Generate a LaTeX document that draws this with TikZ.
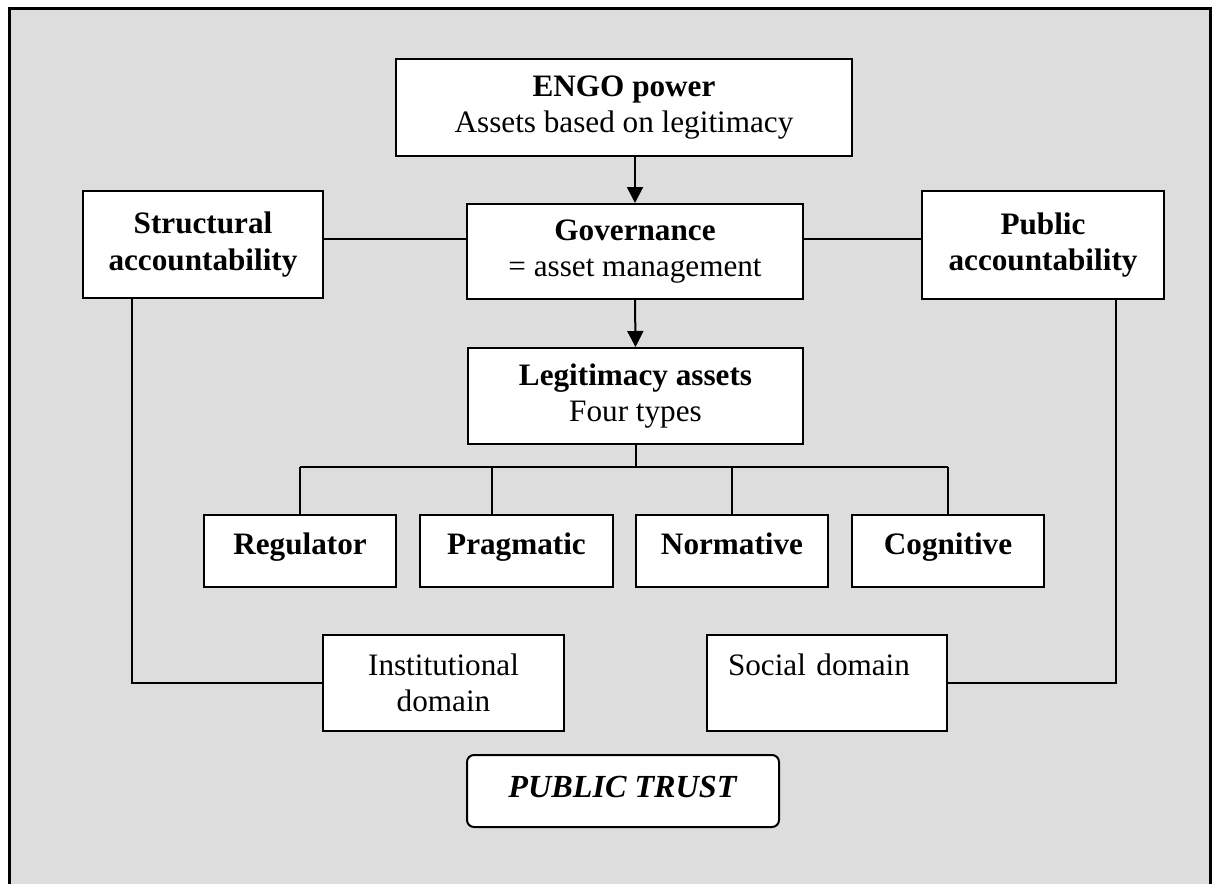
\documentclass[tikz,border=0pt]{standalone}
\usepackage{fontspec}
\setmainfont{Liberation Serif}
\usetikzlibrary{arrows.meta}
\definecolor{bggray}{RGB}{221,221,221}
\begin{document}
\begin{tikzpicture}[x=0.5pt,y=-0.5pt,
  box/.style={draw, fill=white, line width=1pt, inner sep=0pt, align=center,
    font=\fontsize{15.6}{18.3}\selectfont},
  typebox/.style={box, minimum height=36pt, text height=8pt, text depth=4.5pt},
  conn/.style={line width=1pt},
  arr/.style={line width=1pt, -{Triangle[length=8pt,width=8pt]}}]
\useasboundingbox (0,0) rectangle (1213,883);
\clip (0,0) rectangle (1213,883);
\draw[line width=1.5pt, fill=bggray] (9,9) rectangle (1210,920);

% top row
\node[box, minimum width=228pt, minimum height=48.5pt] (engo) at (624,107.5)
  {\textbf{ENGO power}\\Assets based on legitimacy};
\node[box, minimum width=120pt, minimum height=53.5pt] (struct) at (203,244.5)
  {\textbf{Structural}\\\textbf{accountability}};
\node[box, minimum width=168pt, minimum height=47.5pt] (gov) at (635,251.5)
  {\textbf{Governance}\\= asset management};
\node[box, minimum width=121pt, minimum height=54pt] (pub) at (1043,245)
  {\textbf{Public}\\\textbf{accountability}};
\node[box, minimum width=167.5pt, minimum height=48pt] (leg) at (635.5,396)
  {\textbf{Legitimacy assets}\\Four types};

% four types
\node[typebox, minimum width=96pt] (reg) at (300,551) {\textbf{Regulator}};
\node[typebox, minimum width=96.5pt] (prag) at (516.5,551) {\textbf{Pragmatic}};
\node[typebox, minimum width=96pt] (norm) at (732,551) {\textbf{Normative}};
\node[typebox, minimum width=96pt] (cog) at (948,551) {\textbf{Cognitive}};

% domains
\node[box, minimum width=120.5pt, minimum height=48pt] (inst) at (443.5,683)
  {Institutional\\domain};
\node[box, minimum width=120pt, minimum height=48pt, align=left, text width=99pt] (soc) at (827,683)
  {Social domain\\\mbox{}};

% public trust
\node[box, rounded corners=3.5pt, minimum width=156pt, minimum height=36pt, text depth=4pt,
  font=\fontsize{16.1}{18.5}\selectfont] (trust) at (623,791)
  {\textbf{\textit{PUBLIC TRUST}}};

% connectors
\draw[arr] (engo.south -| gov.north) -- (gov.north);
\draw[arr] (gov.south) -- (leg.north);
\draw[conn] (struct.east |- 0,238.5) -- (gov.west |- 0,238.5);
\draw[conn] (gov.east |- 0,238.5) -- (pub.west |- 0,238.5);

\coordinate (br) at (leg.south |- 0,467);
\draw[conn] (leg.south) -- (br);
\draw[conn] (reg.north |- br) -- (cog.north |- br);
\draw[conn] (reg.north |- br) -- (reg.north);
\draw[conn] (prag.north -| 492,0) ++(0,-48) -- (prag.north -| 492,0);
\draw[conn] (norm.north |- br) -- (norm.north);
\draw[conn] (cog.north |- br) -- (cog.north);

\draw[conn] (struct.south -| 132,0) |- (inst.west);
\draw[conn] (pub.south -| 1116,0) |- (soc.east);
\end{tikzpicture}
\end{document}
